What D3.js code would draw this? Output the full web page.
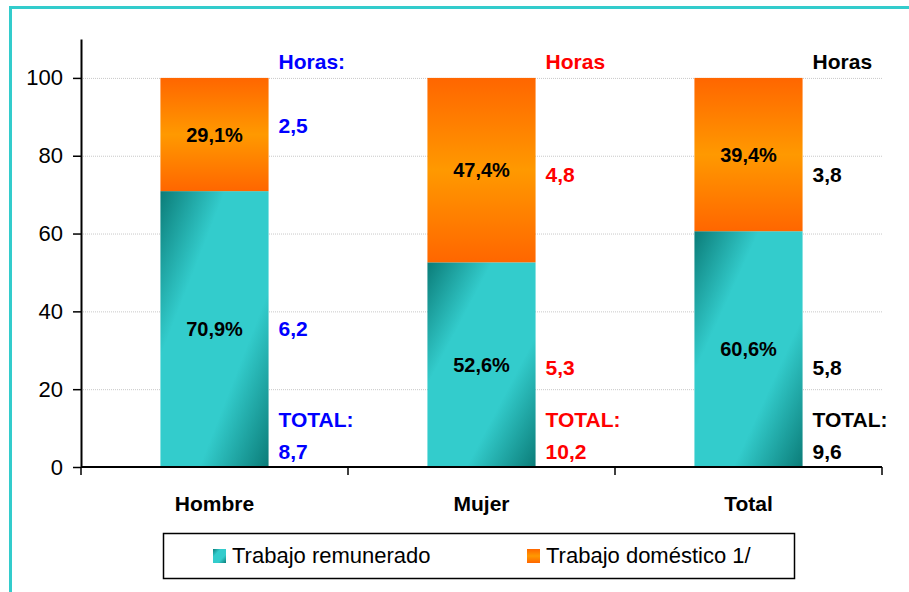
<!DOCTYPE html>
<html>
<head>
<meta charset="utf-8">
<script src="https://cdn.jsdelivr.net/npm/d3@7"></script>
<style>
  body { margin: 0; background: #fff; }
  text { font-family: "Liberation Sans", Arial, sans-serif; }
</style>
</head>
<body>
<svg id="chart"></svg>
<script>
// data
const categories = ['Hombre', 'Mujer', 'Total'];
const remunerado = [70.9, 52.6, 60.6];
const domestico = [29.1, 47.4, 39.4];
const horasRem = [6.2, 5.3, 5.8];
const horasDom = [2.5, 4.8, 3.8];
const horasTotal = [8.7, 10.2, 9.6];
const headers = ['Horas:', 'Horas', 'Horas'];
const yTicks = [0, 20, 40, 60, 80, 100];
const legendLabels = ['Trabajo remunerado', 'Trabajo doméstico 1/'];

// layout stuff (label anchor levels in axis units)
const groupColors = ['#0000FF', '#FF0000', '#000000'];
const domLabelLevel = [87.7, 75.3, 75.1];
const remLabelLevel = [35.7, 25.7, 25.7];

const fmt = v => String(v).replace('.', ',');

const W = 909, H = 592;
const svg = d3.select('#chart').attr('width', W).attr('height', H);

// gradients
const defs = svg.append('defs');
const gTeal = defs.append('linearGradient').attr('id', 'teal')
  .attr('x1', 0).attr('y1', 0).attr('x2', 1).attr('y2', 1);
[[0, '#0B7C78'], [0.3, '#33CCCC'], [0.68, '#33CCCC'], [1, '#0B7C78']]
  .forEach(s => gTeal.append('stop').attr('offset', s[0]).attr('stop-color', s[1]));
const gOrange = defs.append('linearGradient').attr('id', 'orange')
  .attr('x1', 0).attr('y1', 0).attr('x2', 0).attr('y2', 1);
[[0, '#FF6600'], [0.5, '#FF9900'], [1, '#FF6600']]
  .forEach(s => gOrange.append('stop').attr('offset', s[0]).attr('stop-color', s[1]));

// outer frame
svg.append('rect')
  .attr('x', 10.5).attr('y', 7.5).attr('width', 1000).attr('height', 1000)
  .attr('fill', 'none').attr('stroke', '#33CCCC').attr('stroke-width', 3);

const x = d3.scaleBand().domain(categories).range([81, 882]);
const y = d3.scaleLinear().domain([0, 110]).range([467, 39]);
const barW = x.bandwidth() * 0.405;
const barX = c => x(c) + (x.bandwidth() - barW) / 2;

// gridlines
svg.append('g').selectAll('line').data(yTicks.filter(d => d > 0)).join('line')
  .attr('x1', 81).attr('x2', 882)
  .attr('y1', d => y(d) + 0.5).attr('y2', d => y(d) + 0.5)
  .attr('stroke', '#c8c8c8').attr('stroke-dasharray', '1,1');

// bars
const rows = categories.map((c, i) => ({ c, i, rem: remunerado[i], dom: domestico[i] }));
svg.append('g').selectAll('rect').data(rows).join('rect')
  .attr('x', d => barX(d.c)).attr('width', barW)
  .attr('y', d => y(d.rem)).attr('height', d => y(0) - y(d.rem))
  .attr('fill', 'url(#teal)');
svg.append('g').selectAll('rect').data(rows).join('rect')
  .attr('x', d => barX(d.c)).attr('width', barW)
  .attr('y', d => y(d.rem + d.dom)).attr('height', d => y(d.rem) - y(d.rem + d.dom))
  .attr('fill', 'url(#orange)');

// percentage labels
const pct = svg.append('g').attr('font-weight', 'bold').attr('font-size', 20)
  .attr('text-anchor', 'middle').attr('dominant-baseline', 'central');
pct.selectAll('.rem').data(rows).join('text').attr('class', 'rem')
  .attr('x', d => x(d.c) + x.bandwidth() / 2).attr('y', d => y(d.rem / 2))
  .text(d => fmt(d.rem) + '%');
pct.selectAll('.dom').data(rows).join('text').attr('class', 'dom')
  .attr('x', d => x(d.c) + x.bandwidth() / 2).attr('y', d => y(d.rem + d.dom / 2))
  .text(d => fmt(d.dom) + '%');

// hours annotations
const ann = svg.append('g').attr('font-weight', 'bold').attr('font-size', 21)
  .attr('dominant-baseline', 'central');
rows.forEach(d => {
  const ax = barX(d.c) + barW + 10;
  const g = ann.append('g').attr('fill', groupColors[d.i]);
  g.append('text').attr('x', ax).attr('y', y(104.1)).text(headers[d.i]);
  g.append('text').attr('x', ax).attr('y', y(domLabelLevel[d.i])).text(fmt(horasDom[d.i]));
  g.append('text').attr('x', ax).attr('y', y(remLabelLevel[d.i])).text(fmt(horasRem[d.i]));
  g.append('text').attr('x', ax).attr('y', y(12.1)).text('TOTAL:');
  g.append('text').attr('x', ax).attr('y', y(3.9)).text(fmt(horasTotal[d.i]));
});

// y axis
const yAxis = svg.append('g').attr('transform', 'translate(81,0)')
  .call(d3.axisLeft(y).tickValues(yTicks).tickSize(8).tickPadding(10).tickSizeOuter(0));
yAxis.select('.domain').attr('stroke', '#000').attr('stroke-width', 2);
yAxis.selectAll('.tick line').attr('stroke', '#000').attr('stroke-width', 1.5);
yAxis.selectAll('.tick text').attr('font-size', 22).attr('fill', '#000')
  .style('font-family', '"Liberation Sans", Arial, sans-serif');

// x axis
const xAxis = svg.append('g').attr('transform', 'translate(0,467)');
xAxis.append('line').attr('x1', 81).attr('x2', 882).attr('stroke', '#000').attr('stroke-width', 2);
xAxis.selectAll('.bt').data(categories.map(c => x(c)).concat([x.range()[1]])).join('line')
  .attr('class', 'bt')
  .attr('x1', d => d).attr('x2', d => d).attr('y1', 0).attr('y2', 8)
  .attr('stroke', '#000').attr('stroke-width', 1.5);
xAxis.selectAll('text').data(categories).join('text')
  .attr('x', d => x(d) + x.bandwidth() / 2).attr('y', 36)
  .attr('text-anchor', 'middle').attr('dominant-baseline', 'central')
  .attr('font-weight', 'bold').attr('font-size', 21)
  .text(d => d);

// legend
const leg = svg.append('g');
leg.append('rect').attr('x', 163.5).attr('y', 533.5).attr('width', 631).attr('height', 45)
  .attr('fill', '#fff').attr('stroke', '#000').attr('stroke-width', 1.5);
const legX = [213, 527];
const legFill = ['url(#teal)', 'url(#orange)'];
legendLabels.forEach((t, i) => {
  leg.append('rect').attr('x', legX[i]).attr('y', 549).attr('width', 13).attr('height', 14)
    .attr('fill', legFill[i]);
  leg.append('text').attr('x', legX[i] + 19).attr('y', 563)
    .attr('font-size', 22).text(t);
});
</script>
</body>
</html>
